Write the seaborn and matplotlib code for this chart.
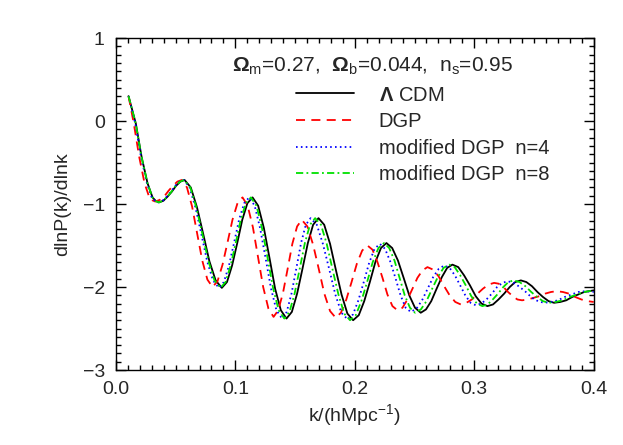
import numpy as np
import matplotlib
matplotlib.use("Agg")
import matplotlib.pyplot as plt
from matplotlib.ticker import MultipleLocator
import seaborn as sns

# ------------------------------------
# DATA
# ------------------------------------

k_lcdm = [0.0106, 0.0167, 0.0215, 0.0265, 0.0307, 0.0335, 0.0362,
          0.0398, 0.0433, 0.0469, 0.0504, 0.0540, 0.0575,
          0.0627, 0.0679, 0.0731, 0.0783, 0.0835, 0.0887,
          0.0930, 0.0973, 0.1016, 0.1058, 0.1101, 0.1144,
          0.1191, 0.1239, 0.1286, 0.1333, 0.1381, 0.1428,
          0.1473, 0.1517, 0.1562, 0.1607, 0.1651, 0.1696,
          0.1744, 0.1793, 0.1841, 0.1889, 0.1938, 0.1986,
          0.2033, 0.2079, 0.2126, 0.2172, 0.2219, 0.2265,
          0.2313, 0.2361, 0.2409, 0.2456, 0.2504, 0.2552,
          0.2596, 0.2640, 0.2685, 0.2729, 0.2773, 0.2817,
          0.2866, 0.2915, 0.2964, 0.3012, 0.3061, 0.3110,
          0.3157, 0.3203, 0.3250, 0.3297, 0.3343, 0.3390,
          0.3436, 0.3483, 0.3529, 0.3575, 0.3622, 0.3668,
          0.3720, 0.3770, 0.3820, 0.3870, 0.3920, 0.3960, 0.4000]
y_lcdm = [0.30, -0.03, -0.43, -0.75, -0.92, -0.965, -0.98,
          -0.96, -0.91, -0.85, -0.78, -0.73, -0.71,
          -0.80, -1.04, -1.36, -1.69, -1.92, -2.01,
          -1.94, -1.74, -1.47, -1.19, -0.99, -0.92,
          -1.02, -1.29, -1.65, -2.02, -2.28, -2.38,
          -2.30, -2.08, -1.78, -1.47, -1.25, -1.17,
          -1.25, -1.48, -1.79, -2.09, -2.32, -2.40,
          -2.34, -2.17, -1.94, -1.70, -1.53, -1.47,
          -1.53, -1.68, -1.89, -2.10, -2.25, -2.31,
          -2.27, -2.17, -2.02, -1.88, -1.77, -1.73,
          -1.76, -1.86, -1.98, -2.11, -2.20, -2.23,
          -2.21, -2.15, -2.08, -2.00, -1.94, -1.92,
          -1.94, -1.99, -2.06, -2.12, -2.17, -2.19,
          -2.18, -2.16, -2.12, -2.09, -2.06, -2.05, -2.04]

k_dgp = [0.0106, 0.0150, 0.0195, 0.0240, 0.0280, 0.0305, 0.0330,
         0.0367, 0.0404, 0.0441, 0.0478, 0.0515, 0.0552,
         0.0595, 0.0638, 0.0681, 0.0723, 0.0766, 0.0809,
         0.0851, 0.0893, 0.0935, 0.0976, 0.1018, 0.1060,
         0.1103, 0.1147, 0.1190, 0.1233, 0.1277, 0.1320,
         0.1359, 0.1399, 0.1438, 0.1477, 0.1517, 0.1556,
         0.1603, 0.1651, 0.1698, 0.1745, 0.1793, 0.1840,
         0.1884, 0.1929, 0.1973, 0.2017, 0.2062, 0.2106,
         0.2148, 0.2190, 0.2232, 0.2273, 0.2315, 0.2357,
         0.2399, 0.2441, 0.2483, 0.2524, 0.2566, 0.2608,
         0.2655, 0.2701, 0.2748, 0.2794, 0.2841, 0.2887,
         0.2934, 0.2980, 0.3027, 0.3073, 0.3120, 0.3166,
         0.3205, 0.3244, 0.3283, 0.3322, 0.3361, 0.3400,
         0.3448, 0.3497, 0.3545, 0.3593, 0.3642, 0.3690,
         0.3742, 0.3793, 0.3845, 0.3897, 0.3948, 0.4000]
y_dgp = [0.30, -0.03, -0.43, -0.75, -0.92, -0.955, -0.97,
         -0.95, -0.91, -0.84, -0.78, -0.73, -0.71,
         -0.80, -1.03, -1.36, -1.68, -1.91, -2.00,
         -1.93, -1.73, -1.46, -1.19, -0.99, -0.92,
         -1.02, -1.28, -1.64, -2.00, -2.26, -2.36,
         -2.28, -2.07, -1.78, -1.48, -1.27, -1.19,
         -1.27, -1.49, -1.78, -2.08, -2.29, -2.37,
         -2.31, -2.15, -1.94, -1.72, -1.56, -1.50,
         -1.55, -1.70, -1.89, -2.09, -2.23, -2.28,
         -2.25, -2.15, -2.02, -1.89, -1.80, -1.76,
         -1.79, -1.87, -1.99, -2.10, -2.18, -2.21,
         -2.19, -2.15, -2.08, -2.02, -1.97, -1.95,
         -1.96, -2.00, -2.06, -2.11, -2.15, -2.16,
         -2.15, -2.13, -2.11, -2.08, -2.06, -2.05,
         -2.06, -2.08, -2.12, -2.15, -2.17, -2.18]

k_mdgp4 = [0.0106, 0.0162, 0.0210, 0.0260, 0.0300, 0.0330, 0.0355,
           0.0391, 0.0426, 0.0462, 0.0497, 0.0533, 0.0568,
           0.0617, 0.0666, 0.0715, 0.0764, 0.0813, 0.0862,
           0.0904, 0.0947, 0.0989, 0.1031, 0.1074, 0.1116,
           0.1162, 0.1207, 0.1253, 0.1299, 0.1344, 0.1390,
           0.1430, 0.1470, 0.1510, 0.1550, 0.1590, 0.1630,
           0.1682, 0.1733, 0.1785, 0.1837, 0.1888, 0.1940,
           0.1985, 0.2030, 0.2075, 0.2120, 0.2165, 0.2210,
           0.2253, 0.2296, 0.2340, 0.2383, 0.2426, 0.2469,
           0.2516, 0.2563, 0.2610, 0.2656, 0.2703, 0.2750,
           0.2794, 0.2838, 0.2882, 0.2925, 0.2969, 0.3013,
           0.3058, 0.3102, 0.3147, 0.3191, 0.3236, 0.3280,
           0.3331, 0.3381, 0.3432, 0.3483, 0.3533, 0.3584,
           0.3642, 0.3699, 0.3757, 0.3815, 0.3872, 0.3930, 0.4000]
y_mdgp4 = [0.30, -0.03, -0.43, -0.75, -0.92, -0.965, -0.98,
           -0.96, -0.91, -0.85, -0.78, -0.73, -0.71,
           -0.80, -1.04, -1.36, -1.69, -1.92, -2.01,
           -1.94, -1.74, -1.47, -1.19, -0.99, -0.92,
           -1.02, -1.29, -1.65, -2.02, -2.28, -2.38,
           -2.30, -2.08, -1.78, -1.47, -1.25, -1.17,
           -1.25, -1.48, -1.78, -2.09, -2.31, -2.39,
           -2.33, -2.16, -1.94, -1.71, -1.54, -1.48,
           -1.54, -1.69, -1.89, -2.10, -2.25, -2.30,
           -2.26, -2.16, -2.02, -1.88, -1.78, -1.74,
           -1.77, -1.86, -1.98, -2.10, -2.19, -2.22,
           -2.20, -2.15, -2.08, -2.00, -1.95, -1.93,
           -1.95, -2.00, -2.06, -2.13, -2.17, -2.19,
           -2.18, -2.16, -2.12, -2.09, -2.06, -2.05, -2.06]

k_mdgp8 = [0.0106, 0.0166, 0.0214, 0.0264, 0.0306, 0.0334, 0.0360,
           0.0395, 0.0431, 0.0466, 0.0501, 0.0537, 0.0572,
           0.0623, 0.0673, 0.0724, 0.0775, 0.0825, 0.0876,
           0.0918, 0.0961, 0.1003, 0.1045, 0.1088, 0.1130,
           0.1177, 0.1223, 0.1270, 0.1317, 0.1363, 0.1410,
           0.1453, 0.1496, 0.1539, 0.1582, 0.1625, 0.1668,
           0.1717, 0.1765, 0.1814, 0.1863, 0.1911, 0.1960,
           0.2008, 0.2055, 0.2103, 0.2150, 0.2198, 0.2245,
           0.2288, 0.2332, 0.2375, 0.2418, 0.2462, 0.2505,
           0.2553, 0.2600, 0.2648, 0.2695, 0.2743, 0.2790,
           0.2836, 0.2883, 0.2929, 0.2975, 0.3022, 0.3068,
           0.3112, 0.3155, 0.3199, 0.3243, 0.3286, 0.3330,
           0.3379, 0.3428, 0.3477, 0.3526, 0.3575, 0.3624,
           0.3680, 0.3740, 0.3800, 0.3860, 0.3920, 0.3960, 0.4000]
y_mdgp8 = [0.30, -0.03, -0.43, -0.75, -0.92, -0.965, -0.98,
           -0.96, -0.91, -0.85, -0.78, -0.73, -0.71,
           -0.80, -1.04, -1.36, -1.69, -1.92, -2.01,
           -1.94, -1.74, -1.47, -1.19, -0.99, -0.92,
           -1.02, -1.29, -1.65, -2.02, -2.28, -2.38,
           -2.30, -2.08, -1.78, -1.47, -1.25, -1.17,
           -1.25, -1.48, -1.79, -2.09, -2.32, -2.40,
           -2.34, -2.17, -1.94, -1.70, -1.53, -1.47,
           -1.53, -1.68, -1.89, -2.10, -2.25, -2.31,
           -2.27, -2.17, -2.02, -1.88, -1.77, -1.73,
           -1.76, -1.86, -1.98, -2.11, -2.20, -2.23,
           -2.21, -2.15, -2.08, -2.00, -1.94, -1.92,
           -1.94, -1.99, -2.06, -2.12, -2.17, -2.19,
           -2.18, -2.16, -2.12, -2.09, -2.06, -2.05, -2.04]

labels = [r"$\mathbf{\Lambda}$ CDM", "DGP", "modified DGP  n=4", "modified DGP  n=8"]
colors = ["black", "#ff0000", "#0000ff", "#00e000"]
styles = ["-", (0, (5, 3.5)), (0, (0.9, 1.8)), (0, (4, 1.8, 1, 1.8))]

# ------------------------------------
# STYLE
# ------------------------------------

sns.set_style("ticks")
plt.rcParams["font.family"] = ["Liberation Sans", "DejaVu Sans"]
plt.rcParams["mathtext.fontset"] = "custom"
plt.rcParams["mathtext.rm"] = "Liberation Sans"
plt.rcParams["mathtext.it"] = "Liberation Sans"
plt.rcParams["mathtext.bf"] = "Liberation Sans:bold"
plt.rcParams["axes.linewidth"] = 1.0
plt.rcParams["axes.edgecolor"] = "black"

fig = plt.figure(figsize=(6.23, 4.45), dpi=100)
ax = fig.add_axes([0.186, 0.1685, 0.767, 0.746])

# ------------------------------------
# CURVES
# ------------------------------------

series = [(k_lcdm, y_lcdm), (k_dgp, y_dgp), (k_mdgp4, y_mdgp4), (k_mdgp8, y_mdgp8)]
for (kk, yy), lab, col, ls in zip(series, labels, colors, styles):
    sns.lineplot(x=kk, y=yy, ax=ax, color=col, linestyle=ls, linewidth=1.3,
                 label=lab, sort=False)

ax.set_xlim(0, 0.4)
ax.set_ylim(-3, 1)
ax.set_xticks([0, 0.1, 0.2, 0.3, 0.4])
ax.set_xticklabels(["0.0", "0.1", "0.2", "0.3", "0.4"])
ax.set_yticks([-3, -2, -1, 0, 1])
ax.xaxis.set_minor_locator(MultipleLocator(0.01))
ax.yaxis.set_minor_locator(MultipleLocator(0.1))
ax.tick_params(which="both", direction="in", top=True, right=True,
               bottom=True, left=True, labelsize=14, width=1.0, color="black")
ax.tick_params(which="major", length=7, pad=8)
ax.tick_params(which="minor", length=3.5)

ax.set_xlabel(r"k/(hMpc$^{-1}$)", fontsize=14, labelpad=3)
ax.set_ylabel("dlnP(k)/dlnk", fontsize=14, labelpad=8)

ax.text(0.536, 0.916,
        r"$\mathbf{\Omega}_\mathrm{m}$=0.27,  $\mathbf{\Omega}_\mathrm{b}$=0.044,  n$_\mathrm{s}$=0.95",
        transform=ax.transAxes, ha="center", va="center", fontsize=15)

ax.legend(loc="upper left", bbox_to_anchor=(0.377, 0.857), frameon=False,
          fontsize=14.5, handlelength=2.9, handletextpad=1.2,
          labelspacing=0.38, borderpad=0, borderaxespad=0)

plt.savefig("out.png", dpi=100)
plt.close()
